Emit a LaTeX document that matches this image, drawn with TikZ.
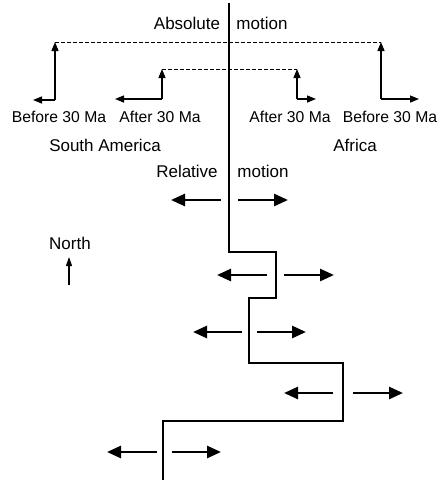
\documentclass[tikz,border=0pt]{standalone}
\usepackage{fontspec}
\setmainfont{Liberation Sans}
\usetikzlibrary{arrows.meta}
\begin{document}
\begin{tikzpicture}[x=1pt,y=-1pt,
  lbl/.style={inner sep=0pt, font=\fontsize{17}{19}\selectfont},
  slbl/.style={inner sep=0pt, font=\fontsize{15.7}{18}\selectfont},
  ridge/.style={line width=2.7pt},
  relarrow/.style={line width=2.7pt, -{Triangle[length=14pt,width=12pt]}},
  absarrow/.style={line width=1.4pt, -{Triangle[length=9pt,width=7pt]}},
  dashline/.style={line width=1pt, dash pattern=on 3.5pt off 2.5pt}]
\useasboundingbox (0,0) rectangle (437,480);
% ridge / transform line
\coordinate (r0) at (229,3);
\coordinate (r1) at (229,252);
\coordinate (r2) at (276,252);
\coordinate (r3) at (276,298);
\coordinate (r4) at (249,298);
\coordinate (r5) at (249,363);
\coordinate (r6) at (343,363);
\coordinate (r7) at (343,421);
\coordinate (r8) at (163,421);
\coordinate (r9) at (163,480);
\draw[ridge] (r0) -- (r1) -- (r2) -- (r3) -- (r4) -- (r5) -- (r6) -- (r7) -- (r8) -- (r9);
% absolute motion
\node[lbl] (abs1) at (187,23) {Absolute};
\node[lbl] (abs2) at (262,23) {motion};
\coordinate (sb0) at (55,100);
\coordinate (sb1) at (55,42);
\coordinate (sb2) at (33,100);
\coordinate (sa0) at (162,99);
\coordinate (sa1) at (162,69);
\coordinate (sa2) at (115,99);
\coordinate (aa0) at (297,99);
\coordinate (aa1) at (297,69);
\coordinate (aa2) at (316,99);
\coordinate (ab0) at (381,99);
\coordinate (ab1) at (381,42);
\coordinate (ab2) at (419,99);
\draw[dashline] (sb1) -- (ab1);
\draw[dashline] (sa1) -- (aa1);
\draw[absarrow] (sb0) -- (sb1);
\draw[absarrow] (sb0) -- (sb2);
\draw[absarrow] (sa0) -- (sa1);
\draw[absarrow] (sa0) -- (sa2);
\draw[absarrow] (aa0) -- (aa1);
\draw[absarrow] (aa0) -- (aa2);
\draw[absarrow] (ab0) -- (ab1);
\draw[absarrow] (ab0) -- (ab2);
\node[slbl] (tsb) at (59,117) {Before 30 Ma};
\node[slbl] (tsa) at (160,117) {After 30 Ma};
\node[slbl] (taa) at (290,117) {After 30 Ma};
\node[slbl] (tab) at (390,117) {Before 30 Ma};
\node[lbl] (sam) at (105,145) {South America};
\node[lbl] (afr) at (355,145) {Africa};
% relative motion
\node[lbl] (rel1) at (187,171) {Relative};
\node[lbl] (rel2) at (263,171) {motion};
\coordinate (p1l0) at (221,200); \coordinate (p1l1) at (171,200);
\coordinate (p1r0) at (238,200); \coordinate (p1r1) at (288,200);
\coordinate (p2l0) at (267,275); \coordinate (p2l1) at (217,275);
\coordinate (p2r0) at (284,275); \coordinate (p2r1) at (334,275);
\coordinate (p3l0) at (242,332); \coordinate (p3l1) at (193,332);
\coordinate (p3r0) at (257,332); \coordinate (p3r1) at (306,332);
\coordinate (p4l0) at (333,393); \coordinate (p4l1) at (284,393);
\coordinate (p4r0) at (353,393); \coordinate (p4r1) at (403,393);
\coordinate (p5l0) at (157,452); \coordinate (p5l1) at (107,452);
\coordinate (p5r0) at (172,452); \coordinate (p5r1) at (221,452);
\foreach \p in {p1,p2,p3,p4,p5}{
  \draw[relarrow] (\p l0) -- (\p l1);
  \draw[relarrow] (\p r0) -- (\p r1);
}
% north arrow
\node[lbl] (north) at (70,243) {North};
\coordinate (n0) at (69,285);
\coordinate (n1) at (69,257);
\draw[line width=1.1pt, -{Triangle[length=9pt,width=6pt]}] (n0) -- (n1);
\end{tikzpicture}
\end{document}
